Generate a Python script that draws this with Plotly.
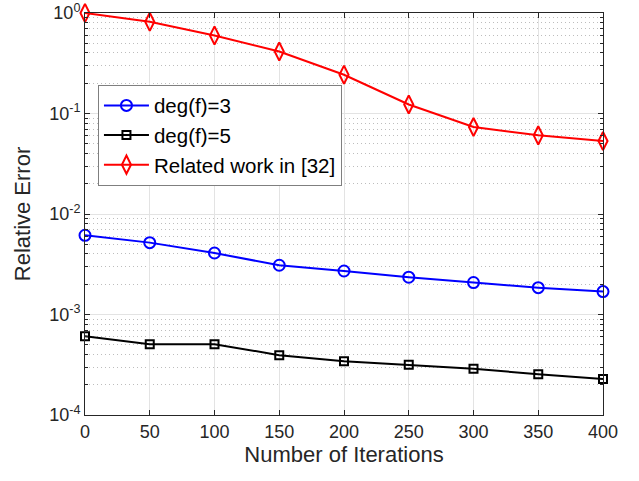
import plotly.graph_objects as go

iterations = [0, 50, 100, 150, 200, 250, 300, 350, 400]
deg3 = [0.00614, 0.00519, 0.00409, 0.00309, 0.00271, 0.00235, 0.00208, 0.00185, 0.00169]
deg5 = [0.000608, 0.000507, 0.000507, 0.000394, 0.000343, 0.000316, 0.000288, 0.000255, 0.000228]
related = [1.0, 0.818, 0.597, 0.414, 0.243, 0.123, 0.0733, 0.0606, 0.0532]

decades = [-4, -3, -2, -1, 0]
y_tickvals = [10.0 ** e for e in decades]
y_ticktext = ["10<sup>%d</sup>" % e for e in decades]
y_minorvals = [m * 10.0 ** e for e in decades[:-1] for m in range(2, 10)]
x_tickvals = [0, 50, 100, 150, 200, 250, 300, 350, 400]

fig = go.Figure()
fig.add_trace(go.Scatter(x=iterations, y=deg3, name="deg(f)=3", mode="lines+markers", cliponaxis=False,
                         line=dict(color="#0000ff", width=2),
                         marker=dict(symbol="circle-open", size=11, line=dict(width=2, color="#0000ff"))))
fig.add_trace(go.Scatter(x=iterations, y=deg5, name="deg(f)=5", mode="lines+markers", cliponaxis=False,
                         line=dict(color="#000000", width=2),
                         marker=dict(symbol="square-open", size=8, line=dict(width=2, color="#000000"))))
fig.add_trace(go.Scatter(x=iterations, y=related, name="Related work in [32]", mode="lines+markers", cliponaxis=False,
                         line=dict(color="#ff0000", width=2),
                         marker=dict(symbol="diamond-tall-open", size=13, line=dict(width=2, color="#ff0000"))))

axis_common = dict(showline=True, linecolor="#262626", linewidth=1, mirror="ticks",
                   ticks="inside", ticklen=5, tickcolor="#262626", automargin=False,
                   ticklabeloverflow="allow",
                   gridcolor="#e3e3e3", gridwidth=1, zeroline=False,
                   tickfont=dict(size=18, color="#262626"))

fig.update_xaxes(range=[0, 400], tickmode="array", tickvals=x_tickvals,
                 title=dict(text="Number of Iterations", font=dict(size=22, color="#262626"), standoff=6),
                 **axis_common)
fig.update_yaxes(type="log", range=[-4, 0], tickmode="array", tickvals=y_tickvals, ticktext=y_ticktext,
                 title=dict(text="Relative Error", font=dict(size=22, color="#262626"), standoff=12),
                 minor=dict(tickmode="array", tickvals=y_minorvals, showgrid=True, griddash="1px,3px",
                            gridcolor="#bdbdbd", gridwidth=1, ticks="inside", ticklen=3, tickcolor="#262626"),
                 **axis_common)

fig.update_layout(
    width=639, height=481,
    margin=dict(l=85, r=36, t=13, b=66),
    plot_bgcolor="white", paper_bgcolor="white",
    font=dict(family="Liberation Sans, Arial, sans-serif", color="#262626"),
    legend=dict(x=0.025, y=0.822, xanchor="left", yanchor="top",
                bgcolor="white", bordercolor="#7f7f7f", borderwidth=1,
                font=dict(size=20.5, color="#000000"), tracegroupgap=0, itemwidth=45),
    showlegend=True,
)

fig.write_html("out.html", config={"displayModeBar": False},
               post_script="document.body.style.margin='0';document.body.style.overflow='hidden';")
